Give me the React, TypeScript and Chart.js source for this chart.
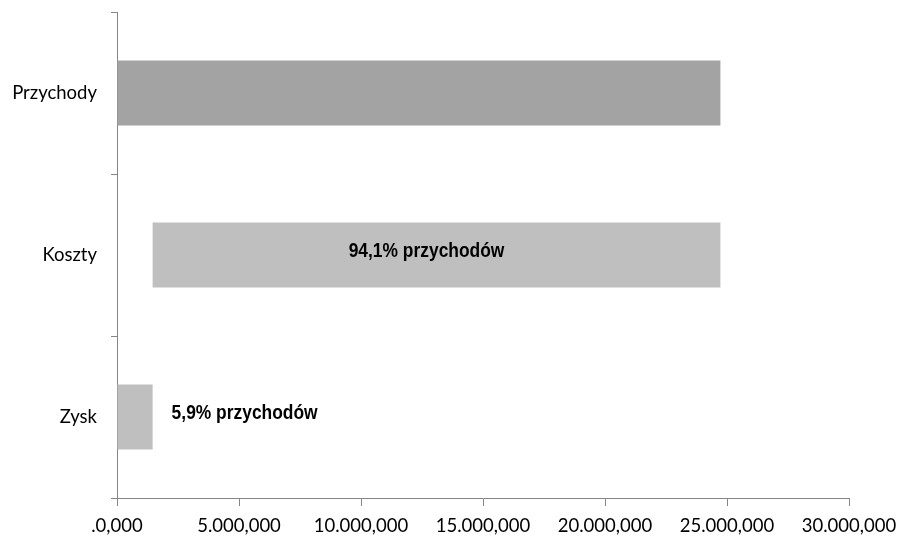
import React, { useEffect, useRef } from "react";
import { Chart, registerables } from "chart.js";

Chart.register(...registerables);

const categories = ["Przychody", "Koszty", "Zysk"];
const revenue = 24730000;
const profit = 1460000;
const barStarts = [0, profit, 0];
const barEnds = [revenue, revenue, profit];
const barLabels = ["", "94,1% przychodów", "5,9% przychodów"];
const barColors = ["#a3a3a3", "#bfbfbf", "#bfbfbf"];
const xTickLabels: Record<number, string> = {
  0: ".0,000",
  5000000: "5.000,000",
  10000000: "10.000,000",
  15000000: "15.000,000",
  20000000: "20.000,000",
  25000000: "25.000,000",
  30000000: "30.000,000",
};

const labelPlugin = {
  id: "barLabels",
  afterDatasetsDraw(chart: any) {
    const meta = chart.getDatasetMeta(0);
    const ctx = chart.ctx;
    const sx = 0.87;
    meta.data.forEach((bar: any, i: number) => {
      const text = barLabels[i];
      if (!text) return;
      ctx.save();
      ctx.font = "bold 20px 'Liberation Sans', Arial";
      ctx.fillStyle = "#000";
      ctx.textBaseline = "middle";
      const w = ctx.measureText(text).width * sx;
      let x0: number;
      if (i === 1) {
        x0 = (bar.x + bar.base) / 2 - 10 - w / 2;
      } else {
        x0 = bar.x + 19;
      }
      const y = bar.y - 4;
      ctx.translate(x0, y);
      ctx.scale(sx, 1);
      ctx.textAlign = "left";
      ctx.fillText(text, 0, 0);
      ctx.restore();
    });
  },
};

export default function App() {
  const ref = useRef<HTMLCanvasElement>(null);
  useEffect(() => {
    document.body.style.margin = "0";
    const chart = new Chart(ref.current!, {
      type: "bar",
      data: {
        labels: categories,
        datasets: [
          {
            data: categories.map((_, i) => [barStarts[i], barEnds[i]]) as any,
            backgroundColor: barColors,
            borderWidth: 0,
            barPercentage: 0.4,
            categoryPercentage: 1,
          },
        ],
      },
      options: {
        indexAxis: "y",
        animation: false,
        responsive: false,
        layout: { padding: { top: 12, right: 52, left: 0, bottom: 0 } },
        plugins: { legend: { display: false }, tooltip: { enabled: false } },
        scales: {
          x: {
            min: 0,
            max: 30000000,
            afterBuildTicks(scale: any) {
              scale.ticks = Object.keys(xTickLabels).map((v) => ({ value: Number(v) }));
            },
            afterFit(scale: any) {
              scale.height = 39;
              scale.paddingLeft = 0;
              scale.paddingRight = 0;
            },
            ticks: {
              autoSkip: false,
              maxRotation: 0,
              color: "#000",
              font: { family: "Lato", size: 18.5 },
              padding: 9,
              callback: (v: any) => xTickLabels[v as number] ?? "",
            },
            grid: {
              drawOnChartArea: false,
              tickLength: 8,
              color: "#868686",
            },
            border: { color: "#868686", width: 1 },
          },
          y: {
            afterFit(scale: any) {
              scale.width = 117;
              scale.paddingTop = 0;
              scale.paddingBottom = 0;
            },
            ticks: {
              color: "#000",
              font: { family: "Lato", size: 18.5 },
              padding: 14,
            },
            grid: {
              offset: true,
              drawOnChartArea: false,
              tickLength: 6,
              color: "#868686",
            },
            border: { color: "#868686", width: 1 },
          },
        },
      },
      plugins: [labelPlugin],
    });
    return () => chart.destroy();
  }, []);
  return (
    <div style={{ width: 901, height: 537 }}>
      <canvas ref={ref} width={901} height={537} style={{ display: "block" }} />
    </div>
  );
}
